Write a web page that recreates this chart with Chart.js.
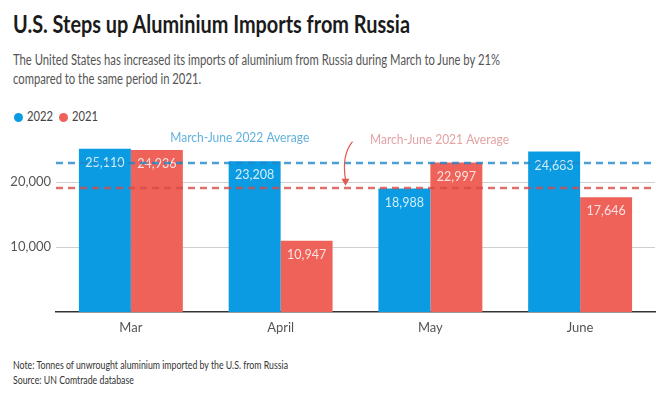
<!DOCTYPE html>
<html><head><meta charset="utf-8">
<script src="https://cdn.jsdelivr.net/npm/chart.js@4.4.0/dist/chart.umd.min.js"></script>
<style>
html,body{margin:0;padding:0;background:#fff;}
#wrap{position:relative;width:658px;height:397px;overflow:hidden;font-family:Lato,"Noto Sans",sans-serif;}
.t{position:absolute;white-space:nowrap;line-height:1;transform-origin:0 50%;}
#c{position:absolute;left:0;top:0;}
.dot{position:absolute;width:9px;height:9px;border-radius:50%;}
</style></head>
<body>
<div id="wrap">
  <div class="t" id="title" data-w="397" data-cy="24" data-fs="25" style="left:13px;font-weight:700;color:#1b1b1b;">U.S. Steps up Aluminium Imports from Russia</div>
  <div class="t" id="sub1" data-w="487" data-cy="61" data-fs="14.5" style="left:13px;color:#555;">The United States has increased its imports of aluminium from Russia during March to June by 21%</div>
  <div class="t" id="sub2" data-cy="79.5" data-ref="sub1" style="left:13px;color:#555;">compared to the same period in 2021.</div>
  <div class="dot" style="left:14px;top:113px;background:#0a9be3;"></div>
  <div class="t" id="lg1" data-w="26" data-cy="117" data-fs="12.5" style="left:27px;color:#444;">2022</div>
  <div class="dot" style="left:59px;top:113px;background:#ee6259;"></div>
  <div class="t" id="lg2" data-cy="117" data-ref="lg1" style="left:72px;color:#444;">2021</div>
  <div class="t" id="note" data-w="275" data-cy="364.5" data-fs="11" style="left:13px;color:#333;">Note: Tonnes of unwrought aluminium imported by the U.S. from Russia</div>
  <div class="t" id="src" data-cy="380" data-ref="note" style="left:13px;color:#333;">Source: UN Comtrade database</div>
  <canvas id="c" width="658" height="397"></canvas>
</div>
<script>
const categories = ['Mar', 'April', 'May', 'June'];
const values2022 = [25110, 23208, 18988, 24683];
const values2021 = [24936, 10947, 22997, 17646];
const yTicks = [10000, 20000];
const seriesNames = ['2022', '2021'];
const avgLabels = ['March-June 2022 Average', 'March-June 2021 Average'];

const BLUE = '#0a9be3', RED = '#ee6259';
const mean = a => a.reduce((s, v) => s + v, 0) / a.length;
const avg2022 = mean(values2022), avg2021 = mean(values2021);

// size HTML text: height from font size, width squeezed to match reference
const scales = {};
document.querySelectorAll('.t').forEach(el => {
  const ref = el.dataset.ref ? document.getElementById(el.dataset.ref) : el;
  const fs = +ref.dataset.fs;
  el.style.fontSize = fs + 'px';
  let k;
  if (el.dataset.w) {
    const w = el.getBoundingClientRect().width;
    k = (+el.dataset.w) / w;
    scales[el.id] = k;
  } else {
    k = scales[el.dataset.ref];
  }
  el.style.transform = 'scaleX(' + k + ')';
  el.style.top = (+el.dataset.cy - fs * 0.52) + 'px';
});

const fmt = v => v.toLocaleString('en-US');

const overlay = {
  id: 'overlay',
  afterDatasetsDraw(chart) {
    const ctx = chart.ctx, ca = chart.chartArea;
    const x = chart.scales.x, y = chart.scales.y;
    // value labels
    ctx.save();
    ctx.font = '12.5px Lato, "Noto Sans", sans-serif';
    ctx.fillStyle = 'rgba(255,255,255,0.82)';
    ctx.textAlign = 'center';
    ctx.textBaseline = 'middle';
    chart.data.datasets.forEach((ds, di) => {
      chart.getDatasetMeta(di).data.forEach((bar, i) => {
        ctx.fillText(fmt(ds.data[i]), bar.x, bar.y + 14);
      });
    });
    ctx.restore();
    // average lines
    const lines = [[avg2022, 'rgba(30,135,200,0.8)'], [avg2021, 'rgba(215,75,70,0.8)']];
    ctx.save();
    ctx.lineWidth = 2.5;
    ctx.setLineDash([7, 5]);
    lines.forEach(([v, col]) => {
      const py = Math.round(y.getPixelForValue(v));
      ctx.strokeStyle = col;
      ctx.beginPath();
      ctx.moveTo(ca.left, py);
      ctx.lineTo(ca.right, py);
      ctx.stroke();
    });
    ctx.restore();
    // annotation labels
    ctx.save();
    ctx.font = '13px Lato, "Noto Sans", sans-serif';
    ctx.textAlign = 'center';
    ctx.textBaseline = 'middle';
    const yb = y.getPixelForValue(avg2022), yr = y.getPixelForValue(avg2021);
    const drawSq = (txt, cx, cy, w) => {
      const m = ctx.measureText(txt).width;
      ctx.save();
      ctx.translate(cx, cy);
      ctx.scale(w / m, 1);
      ctx.fillText(txt, 0, 0);
      ctx.restore();
    };
    ctx.fillStyle = '#62b1dd';
    drawSq(avgLabels[0], (x.getPixelForValue(0) + x.getPixelForValue(1)) / 2 + 34, yb - 25, 139);
    ctx.fillStyle = '#e3a3a3';
    drawSq(avgLabels[1], (x.getPixelForValue(2) + x.getPixelForValue(1)) / 2 + 84, yb - 23, 139);
    // arrow
    const ax = (x.getPixelForValue(1) + x.getPixelForValue(2)) / 2 - 10;
    ctx.strokeStyle = '#e05a52';
    ctx.fillStyle = '#e05a52';
    ctx.lineWidth = 1.2;
    ctx.beginPath();
    ctx.moveTo(ax + 7, yb - 21);
    ctx.quadraticCurveTo(ax - 4, yb - 8, ax, yr - 8);
    ctx.stroke();
    ctx.beginPath();
    ctx.moveTo(ax - 4, yr - 9);
    ctx.lineTo(ax + 4, yr - 9);
    ctx.lineTo(ax, yr - 2);
    ctx.closePath();
    ctx.fill();
    ctx.restore();
  }
};

new Chart(document.getElementById('c'), {
  type: 'bar',
  data: {
    labels: categories,
    datasets: [
      { label: seriesNames[0], data: values2022, backgroundColor: BLUE },
      { label: seriesNames[1], data: values2021, backgroundColor: RED }
    ]
  },
  options: {
    responsive: false,
    animation: false,
    events: [],
    layout: { padding: { top: 130, right: 3, bottom: 55, left: 0 } },
    plugins: { legend: { display: false }, tooltip: { enabled: false } },
    datasets: { bar: { barPercentage: 1, categoryPercentage: 0.694 } },
    scales: {
      x: {
        grid: { display: false, drawTicks: false },
        border: { display: true, color: '#333', width: 1.5 },
        ticks: { color: '#555', font: { size: 13, family: 'Lato, "Noto Sans", sans-serif' }, padding: 8 },
        afterFit(s) { s.height = 30; }
      },
      y: {
        min: 0, max: 28000,
        afterBuildTicks(s) { s.ticks = yTicks.map(v => ({ value: v })); },
        grid: { color: '#d0d0d0', lineWidth: 1, drawTicks: false },
        border: { display: false },
        ticks: { color: '#555', font: { size: 13, family: 'Lato, "Noto Sans", sans-serif' }, padding: 5,
                 callback: v => fmt(v) },
        afterFit(s) { s.width = 56; }
      }
    }
  },
  plugins: [overlay]
});
</script>
</body></html>
